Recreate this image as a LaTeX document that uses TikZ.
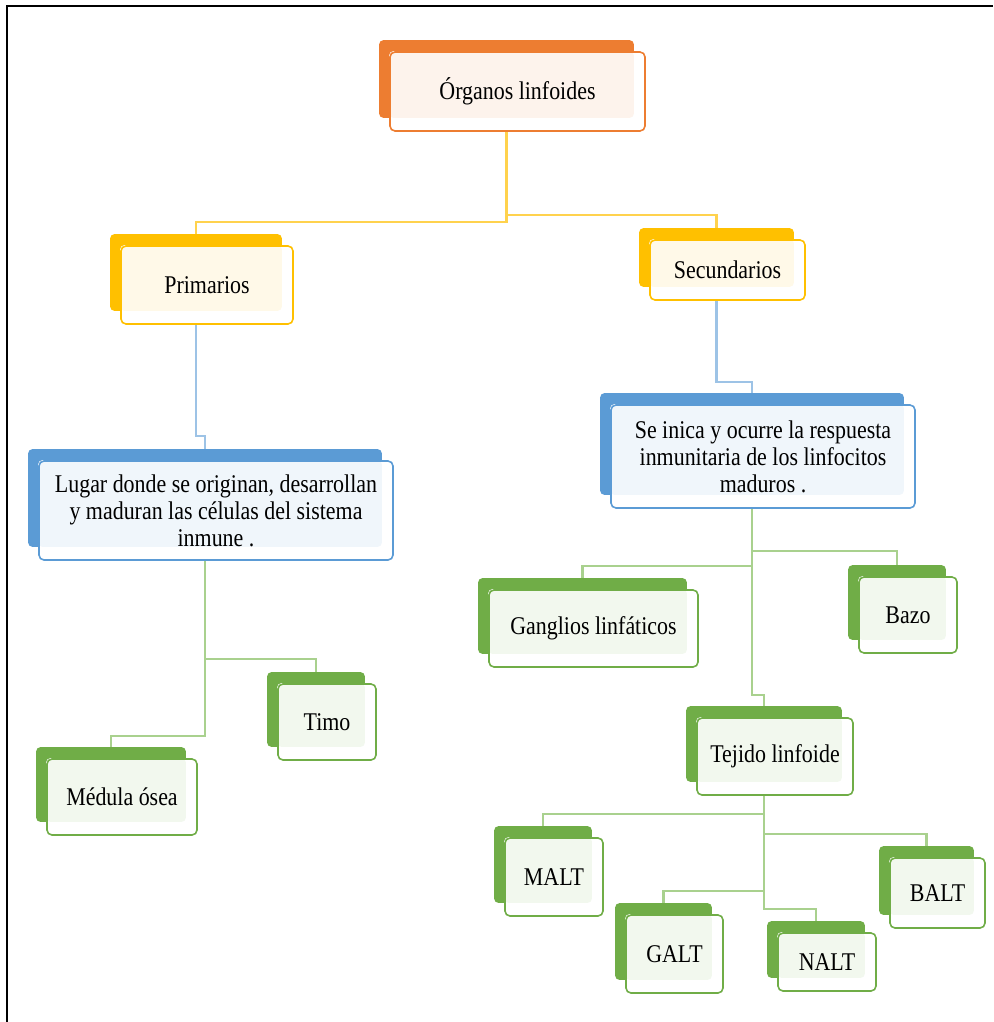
\documentclass[tikz,border=0pt]{standalone}
\usepackage{fontspec}
\setmainfont{Liberation Serif}[FakeStretch=0.86]
\usetikzlibrary{calc,backgrounds}
\definecolor{mapOrange}{HTML}{ED7D31}
\definecolor{mapGold}{HTML}{FFC000}
\definecolor{mapBlue}{HTML}{5B9BD5}
\definecolor{mapGreen}{HTML}{70AD47}
\definecolor{linkGold}{HTML}{FFD24D}
\definecolor{linkBlue}{HTML}{9DC3E6}
\definecolor{linkGreen}{HTML}{A9D18E}
\tikzset{
    front/.style={draw=#1, line width=1.6pt, rounded corners=5pt, inner sep=0pt, align=center},
    link/.style={draw=#1, line width=2.6pt},
}
\begin{document}
\begin{tikzpicture}[x=1pt, y=-1pt, font=\fontsize{25.5}{27}\selectfont]
        \useasboundingbox (0,0) rectangle (993,1022);
        % frame
        \draw[line width=2.5pt] (7,1022) -- (7,6) -- (993,6);
        % boxes
        \node[front=mapOrange, minimum width=255pt, minimum height=79pt] (org) at (517.5,91.5) {Órganos linfoides};
        \node[front=mapGold, minimum width=172pt, minimum height=78pt] (prim) at (207,285) {Primarios};
        \node[front=mapGold, minimum width=155pt, minimum height=60pt] (sec) at (727.5,270) {Secundarios};
        \node[front=mapBlue, minimum width=354pt, minimum height=99pt] (lugar) at (216,510.5)
            {Lugar donde se originan, desarrollan\\ y maduran las células del sistema\\ inmune .};
        \node[front=mapBlue, minimum width=304pt, minimum height=103pt] (inica) at (763,456.5)
            {Se inica y ocurre la respuesta\\ inmunitaria de los linfocitos\\ maduros .};
        \node[front=mapGreen, minimum width=209pt, minimum height=77pt] (gang) at (593.5,628.5) {Ganglios linfáticos};
        \node[front=mapGreen, minimum width=98pt, minimum height=76pt] (bazo) at (908,615) {Bazo};
        \node[front=mapGreen, minimum width=98pt, minimum height=76pt] (timo) at (327,722) {Timo};
        \node[front=mapGreen, minimum width=150pt, minimum height=76pt] (medula) at (122,797) {Médula ósea};
        \node[front=mapGreen, minimum width=156pt, minimum height=77pt] (tejido) at (775,756.5) {Tejido linfoide};
        \node[front=mapGreen, minimum width=98pt, minimum height=78pt] (malt) at (554,877) {MALT};
        \node[front=mapGreen, minimum width=97pt, minimum height=78pt] (galt) at (674.5,954) {GALT};
        \node[front=mapGreen, minimum width=98pt, minimum height=58pt] (nalt) at (827,962) {NALT};
        \node[front=mapGreen, minimum width=95pt, minimum height=70pt] (balt) at (937.5,893) {BALT};
        \foreach \n in {org,prim,sec,lugar,inica,gang,bazo,timo,medula,tejido,malt,galt,nalt,balt}
            {
                \coordinate (\n-c) at ($(\n.center)+(-11pt,12.5pt)$);
            }
        \begin{scope}[on background layer]
            % connectors
            \draw[link=linkGold] (org-c) -- (org-c |- 0,222) -| (prim-c);
            \draw[link=linkGold] (org-c) -- (org-c |- 0,215) -| (sec-c);
            \draw[link=linkBlue] (prim-c) -- (prim-c |- 0,436) -| (lugar-c);
            \draw[link=linkBlue] (sec-c) -- (sec-c |- 0,382) -| (inica-c);
            \draw[link=linkGreen] (lugar-c) -- (lugar-c |- 0,736) -| (medula-c);
            \draw[link=linkGreen] (lugar-c) -- (lugar-c |- 0,659) -| (timo-c);
            \draw[link=linkGreen] (inica-c) -- (inica-c |- 0,566) -| (gang-c);
            \draw[link=linkGreen] (inica-c) -- (inica-c |- 0,551) -| (bazo-c);
            \draw[link=linkGreen] (inica-c) -- (inica-c |- 0,695) -| (tejido-c);
            \draw[link=linkGreen] (tejido-c) -- (tejido-c |- 0,814) -| (malt-c);
            \draw[link=linkGreen] (tejido-c) -- (tejido-c |- 0,834) -| (balt-c);
            \draw[link=linkGreen] (tejido-c) -- (tejido-c |- 0,891) -| (galt-c);
            \draw[link=linkGreen] (tejido-c) -- (tejido-c |- 0,909) -| (nalt-c);
            % back cards and tints
            \foreach \n/\c in {org/mapOrange,prim/mapGold,sec/mapGold,lugar/mapBlue,inica/mapBlue,
                gang/mapGreen,bazo/mapGreen,timo/mapGreen,medula/mapGreen,tejido/mapGreen,
                malt/mapGreen,galt/mapGreen,nalt/mapGreen,balt/mapGreen}
                {
                    \fill[\c, rounded corners=4pt]($(\n.north west)+(-10pt,11pt)$)rectangle($(\n.south east)+(-12pt,14pt)$);
                    \fill[white, rounded corners=5pt](\n.north west)rectangle(\n.south east);
                    \fill[\c!9, rounded corners=4pt](\n.north west)rectangle($(\n.south east)+(-12pt,14pt)$);
                }
        \end{scope}
\end{tikzpicture}
\end{document}
